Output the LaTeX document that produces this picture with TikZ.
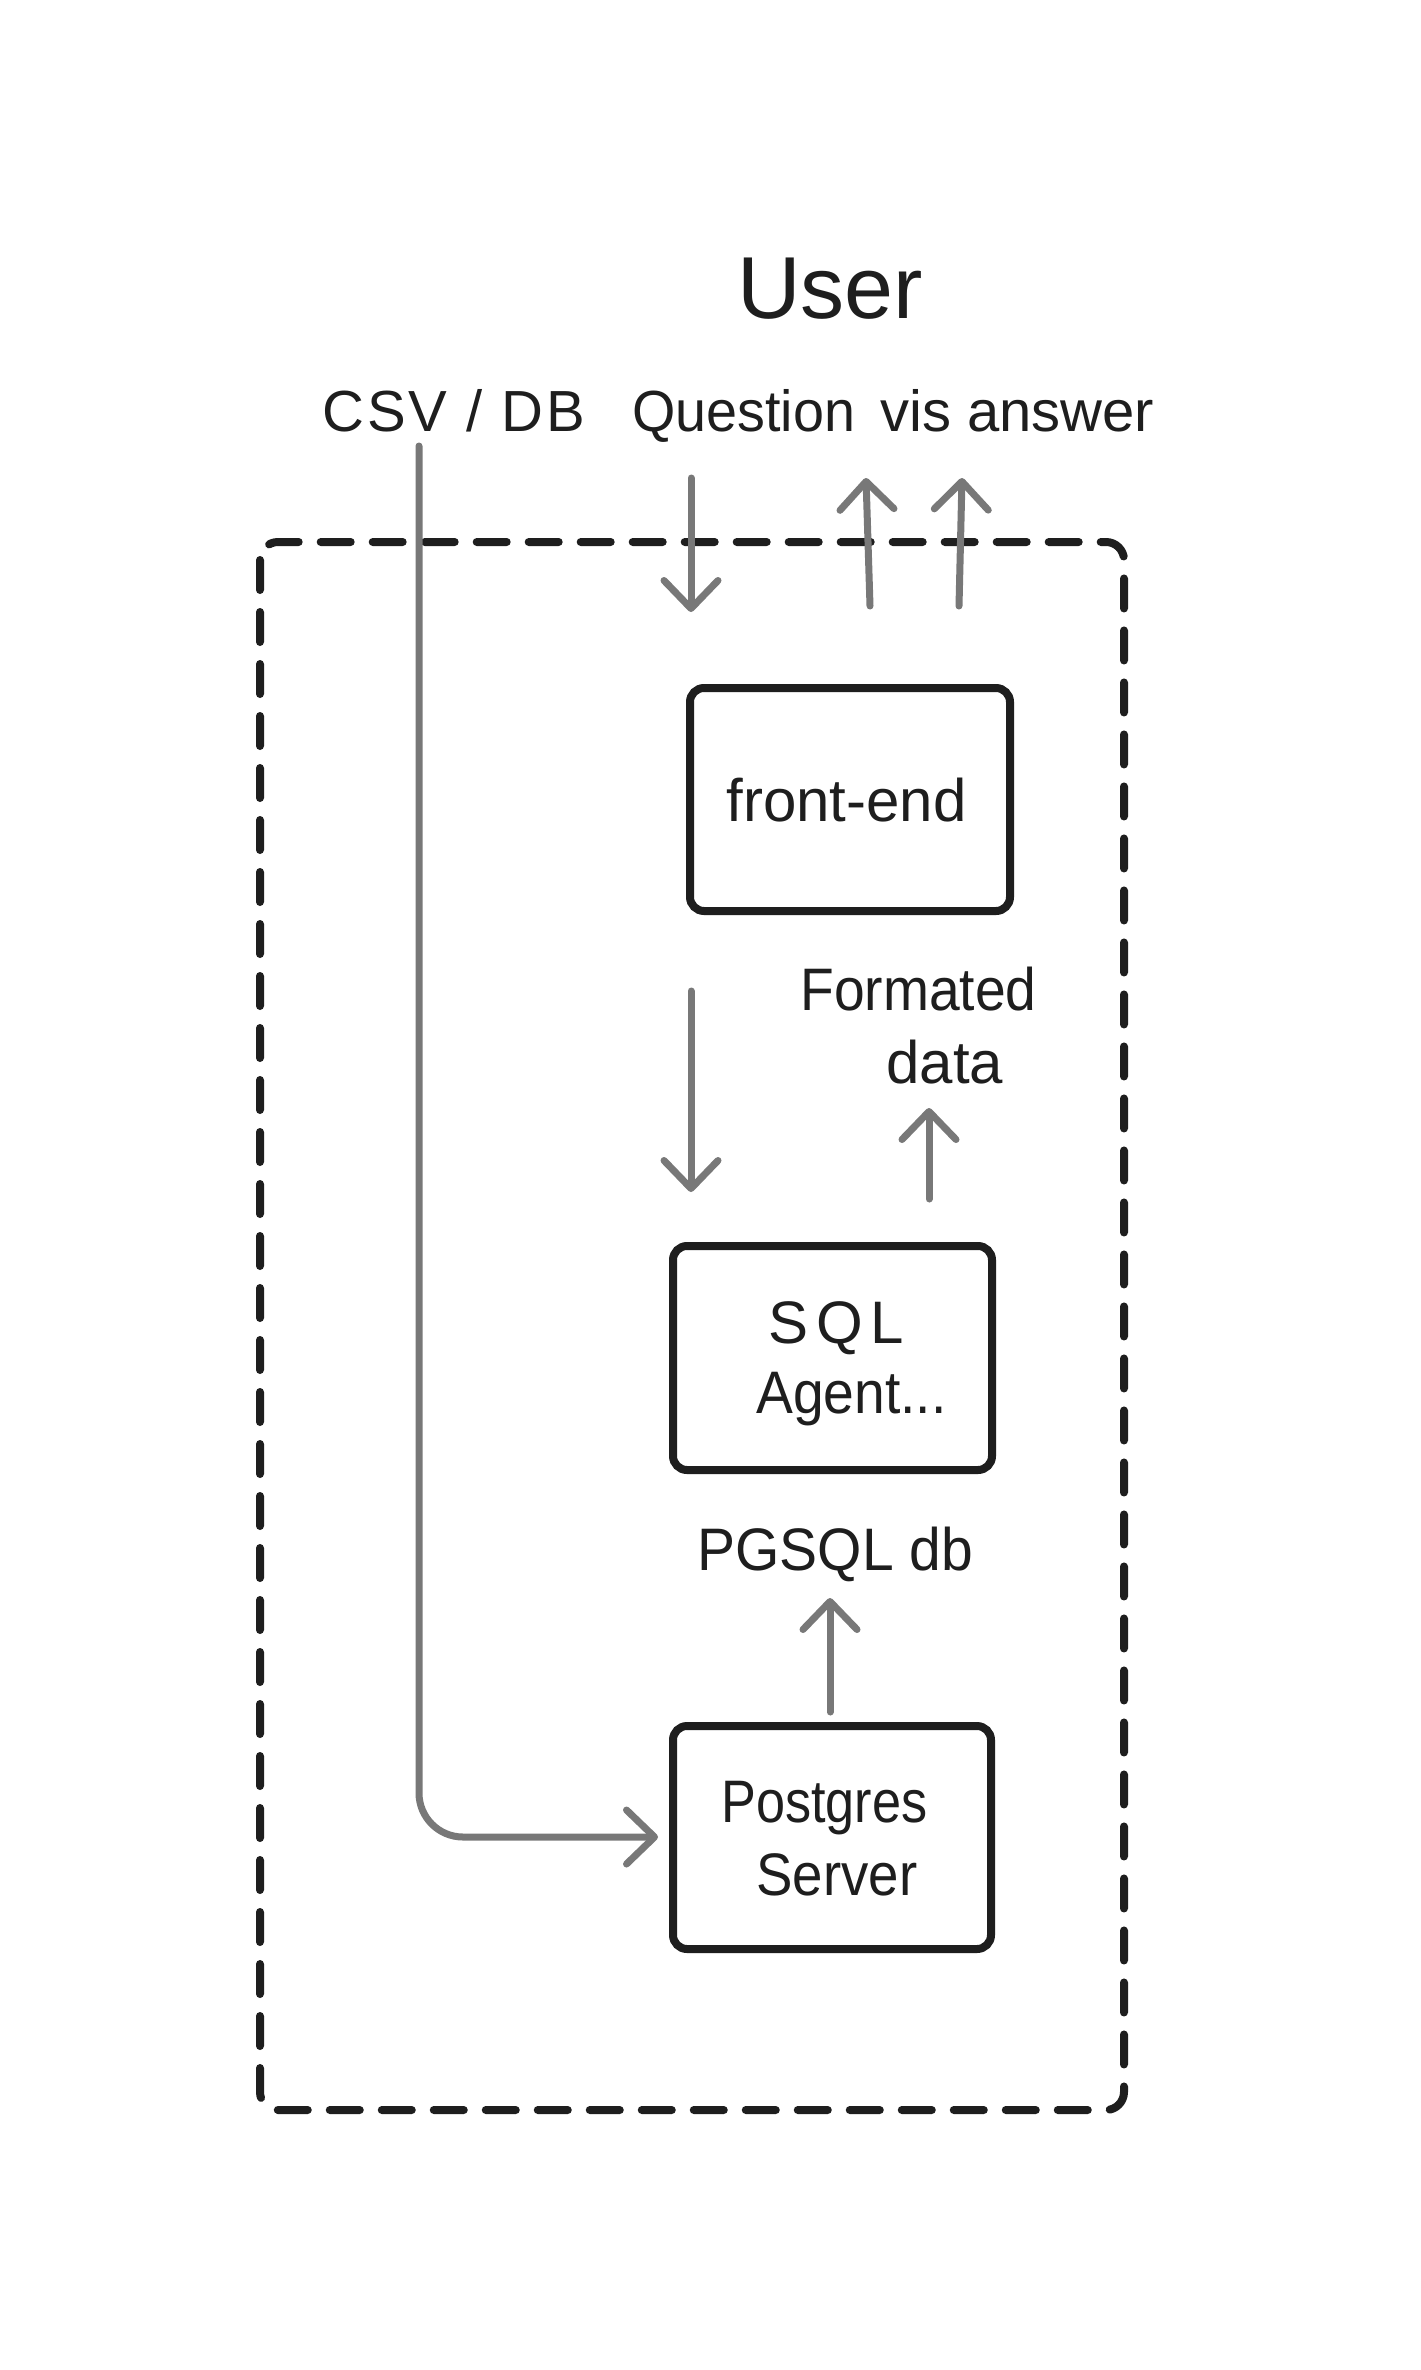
\documentclass[tikz,border=0pt]{standalone}
\usepackage{fontspec}
\usepackage{graphicx}
\setmainfont{Liberation Sans}
\usetikzlibrary{arrows.meta}

\definecolor{ink}{HTML}{1E1E1E}
\definecolor{flow}{HTML}{787878}

% horizontal fit of a label
\newcommand{\hfitlabel}[2]{\scalebox{#1}[1]{#2}}
% spaced-out lettering
\newcommand{\spacedlabel}[2]{{\addfontfeatures{LetterSpace=#1}#2}}

\tikzset{
  lbl/.style={anchor=base west, inner sep=0pt, text=ink, font=\fontsize{29}{34}\selectfont},
  boxtxt/.style={anchor=base west, inner sep=0pt, text=ink, font=\fontsize{30}{36}\selectfont},
  comp/.style={draw=ink, line width=4pt, rounded corners=7pt, inner sep=0pt},
  zone/.style={draw=ink, line width=4pt, rounded corners=9pt, line cap=round,
               dash pattern=on 15pt off 11pt},
  arr/.style={draw=flow, line width=3.5pt, line cap=round,
              -{Straight Barb[length=14pt, width=27pt, round]}},
}

\begin{document}
\begin{tikzpicture}[x=0.5pt, y=-0.5pt]
  % canvas, in pixel units (y grows downwards)
  \useasboundingbox[fill=white] (0,0) rectangle (1420,2370);

  % system boundary
  \draw[zone] (260,542) rectangle (1124,2110);

  % components
  \node[comp, minimum width=160pt, minimum height=111.5pt] (fe) at (850,799.5) {};
  \node[comp, minimum width=159.5pt, minimum height=112pt] (sql) at (832.5,1358) {};
  \node[comp, minimum width=159pt, minimum height=111.5pt] (pg) at (832,1837.5) {};

  % titles and labels
  \node[anchor=base west, inner sep=0pt, text=ink, font=\fontsize{44}{52}\selectfont] (user) at (737,319) {User};
  \node[lbl] (csv) at (322,431) {\spacedlabel{5}{CSV / DB}};
  \node[lbl] (question) at (632,431) {\hfitlabel{0.96}{Question}};
  \node[lbl] (vis) at (880,431) {vis answer};

  \node[boxtxt] (fetxt) at (726,821) {front-end};
  \node[boxtxt] (fmt1) at (800,1010) {\hfitlabel{0.92}{Formated}};
  \node[boxtxt] (fmt2) at (886,1083) {data};
  \node[boxtxt] (sql1) at (768,1343) {\spacedlabel{13}{SQL}};
  \node[boxtxt] (sql2) at (756,1413) {\hfitlabel{0.92}{Agent...}};
  \node[boxtxt] (pgdb) at (697,1570) {\hfitlabel{0.95}{PGSQL db}};
  \node[boxtxt] (pg1) at (721,1822) {\hfitlabel{0.87}{Postgres}};
  \node[boxtxt] (pg2) at (756,1895) {\hfitlabel{0.91}{Server}};

  % connector end points
  \coordinate (qa) at (691,478);   \coordinate (qb) at (691,612);
  \coordinate (va) at (870,606);   \coordinate (vb) at (866,478);
  \coordinate (wa) at (959,606);   \coordinate (wb) at (962,478);
  \coordinate (da) at (691,991);   \coordinate (db) at (691,1192);
  \coordinate (fa) at (929,1199);  \coordinate (fb) at (929,1108);
  \coordinate (pa) at (830,1712);  \coordinate (pb) at (830,1598);
  \coordinate (ca) at (419,446);   \coordinate (cb) at (658,1837);

  % flows
  \draw[arr] (qa) -- (qb);
  \draw[arr] (va) -- (vb);
  \draw[arr] (wa) -- (wb);
  \draw[arr] (da) -- (db);
  \draw[arr] (fa) -- (fb);
  \draw[arr] (pa) -- (pb);
  \draw[arr, rounded corners=22pt] (ca) |- (cb);
\end{tikzpicture}
\end{document}
